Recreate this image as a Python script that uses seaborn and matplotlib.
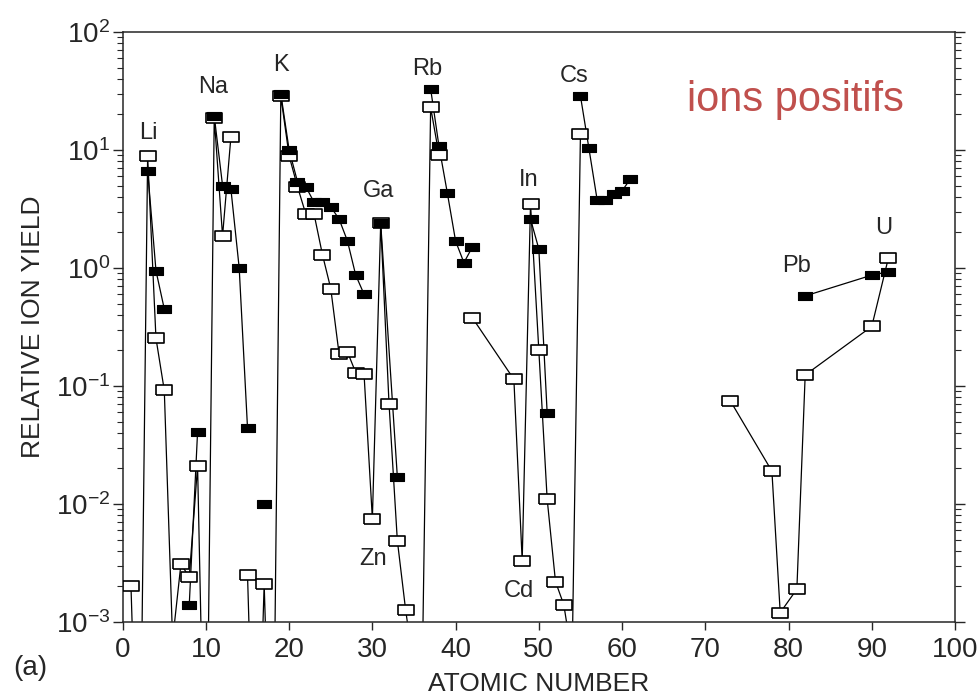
import numpy as np
import pandas as pd
import seaborn as sns
import matplotlib.pyplot as plt
from matplotlib.ticker import FixedLocator, LogLocator, NullFormatter

# open squares: atomic number, relative ion yield, line segment id
# (values below 1e-3 are the elements drawn as lines dropping out of the frame)
open_z = [1, 2, 3, 4, 5, 6, 7, 8, 9, 10, 11, 12, 13,
          15, 16, 17, 18, 19, 20, 21, 22, 23, 24, 25, 26, 27, 28, 29, 30, 31, 32, 33, 34, 35, 36, 37, 38,
          42, 47, 48, 49, 50, 51, 52, 53, 54, 55,
          73, 78, 79, 81, 82, 90, 92]
open_y = [2.0e-3, 1e-5, 8.9, 0.254, 0.092, 7e-4, 3.1e-3, 2.4e-3, 0.021, 1e-5, 18.8, 1.87, 12.8,
          2.5e-3, 1e-5, 2.1e-3, 1e-5, 28.7, 8.9, 4.9, 2.87, 2.85, 1.3, 0.67, 0.187, 0.195, 0.13, 0.126,
          7.5e-3, 2.4, 0.071, 4.9e-3, 1.26e-3, 4e-4, 4e-4, 23, 9.1,
          0.38, 0.114, 3.3e-3, 3.5, 0.2, 0.011, 2.2e-3, 1.4e-3, 5e-4, 13.8,
          0.075, 0.019, 1.2e-3, 1.9e-3, 0.124, 0.32, 1.22]
open_seg = [0] * 13 + [1] * 24 + [2] * 10 + [3] * 7

# filled squares
filled_z = [3, 4, 5,
            8, 9,
            11, 12, 13, 14, 15,
            17,
            19, 20, 21, 22, 23, 24, 25, 26, 27, 28, 29,
            31, 33,
            37, 38, 39, 40, 41, 42,
            49, 50, 51,
            55, 56, 57, 58, 59, 60, 61,
            82, 90, 92]
filled_y = [6.7, 0.95, 0.45,
            1.4e-3, 0.041,
            19.5, 5.0, 4.7, 1.0, 0.044,
            0.010,
            30, 10, 5.4, 4.9, 3.6, 3.6, 3.3, 2.6, 1.7, 0.87, 0.6,
            2.4, 0.017,
            33, 10.8, 4.35, 1.69, 1.11, 1.5,
            2.6, 1.45, 0.059,
            28.7, 10.5, 3.8, 3.8, 4.2, 4.5, 5.7,
            0.58, 0.87, 0.93]
filled_seg = [0] * 3 + [1] * 2 + [2] * 5 + [3] + [4] * 11 + [5] * 2 + [6] * 6 + [7] * 3 + [8] * 7 + [9] * 3

labels = ['Li', 'Na', 'K', 'Ga', 'Rb', 'Cs', 'In', 'Zn', 'Cd', 'Pb', 'U']
label_z = [3.1, 10.9, 19.0, 30.7, 36.6, 54.2, 48.8, 30.1, 47.6, 81.0, 91.4]
label_y = [13.9, 34, 52.5, 4.5, 48.6, 42.4, 5.57, 3.42e-3, 1.83e-3, 1.04, 2.18]

sns.set_style('ticks')
plt.rcParams['font.family'] = ['Liberation Sans', 'DejaVu Sans']
plt.rcParams['axes.linewidth'] = 1.1

fig = plt.figure(figsize=(9.79, 6.96), dpi=100)
ax = fig.add_axes([0.1253, 0.1063, 0.8502, 0.8477])
ax.set_yscale('log')

open_df = pd.DataFrame({'z': open_z, 'y': open_y, 'seg': open_seg})
filled_df = pd.DataFrame({'z': filled_z, 'y': filled_y, 'seg': filled_seg})

for df in (open_df, filled_df):
    sns.lineplot(data=df, x='z', y='y', units='seg', estimator=None, sort=False,
                 color='black', lw=0.9, ax=ax, legend=False)

rect = [(-1, -0.6), (1, -0.6), (1, 0.6), (-1, 0.6), (-1, -0.6)]
sns.scatterplot(data=open_df[open_df.y >= 1e-3], x='z', y='y', marker=rect, s=125,
                color='white', edgecolor='black', linewidth=1.2, zorder=3, ax=ax, legend=False)
sns.scatterplot(data=filled_df[filled_df.y >= 1e-3], x='z', y='y', marker=rect, s=105,
                color='black', edgecolor='black', linewidth=0.8, zorder=4, ax=ax, legend=False)

for t, zx, zy in zip(labels, label_z, label_y):
    ax.text(zx, zy, t, ha='center', va='center', fontsize=17)

ax.set_xlim(0, 100)
ax.set_ylim(1e-3, 1e2)
ax.set_xticks(range(0, 101, 10))
ax.set_xticklabels([str(v) for v in range(0, 101, 10)], fontsize=20)
ax.yaxis.set_major_locator(FixedLocator(10.0 ** np.arange(-3, 3)))
ax.set_yticklabels([r'$\mathregular{10^{%d}}$' % e for e in range(-3, 3)], fontsize=20)
ax.yaxis.set_minor_locator(LogLocator(base=10, subs=np.arange(2, 10)))
ax.yaxis.set_minor_formatter(NullFormatter())
ax.tick_params(axis='y', which='both', left=True, right=True, direction='out')
ax.tick_params(axis='y', which='major', length=7, width=1, pad=2)
ax.tick_params(axis='y', which='minor', length=4, width=0.8)
ax.tick_params(axis='x', which='major', length=6, width=1, pad=5)

ax.set_xlabel('ATOMIC NUMBER', fontsize=19, labelpad=6)
ax.set_ylabel('RELATIVE ION YIELD', fontsize=19, labelpad=8)

fig.text(0.812, 0.856, 'ions positifs', color='#c0504d', fontsize=30,
         ha='center', va='center')
fig.text(0.014, 0.040, '(a)', fontsize=20, ha='left', va='center')

fig.savefig('out.png', dpi=100)
